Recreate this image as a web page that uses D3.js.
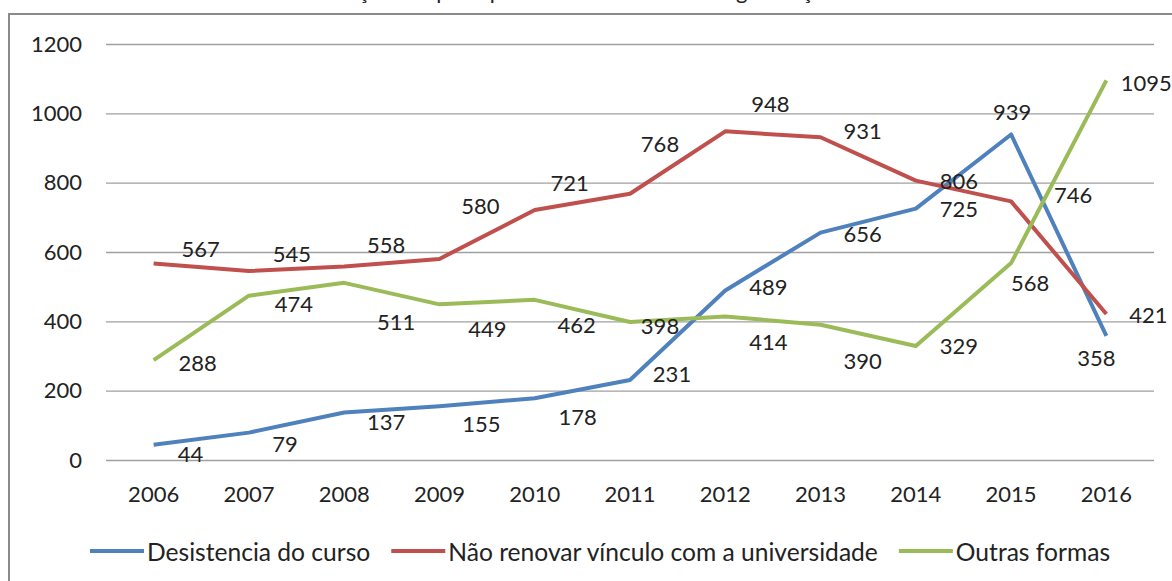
<!DOCTYPE html>
<html>
<head>
<meta charset="utf-8">
<script src="https://cdn.jsdelivr.net/npm/d3@7"></script>
<style>
  html, body { margin: 0; padding: 0; background: #fff; }
  svg { display: block; }
  text { font-family: Lato, "Open Sans", sans-serif; fill: #222; }
</style>
</head>
<body>
<div id="chart"></div>
<script>
(function() {
  const width = 1172
  const height = 581
  const fontSize = 22
  const legendFontSize = 24.6

  const years = ['2006', '2007', '2008', '2009', '2010', '2011', '2012', '2013', '2014', '2015', '2016']
  const yTicks = [0, 200, 400, 600, 800, 1000, 1200]
  const seriesNames = ['Desistencia do curso', 'Não renovar vínculo com a universidade', 'Outras formas']
  const desistencia = [44, 79, 137, 155, 178, 231, 489, 656, 725, 939, 358]
  const naoRenovar = [567, 545, 558, 580, 721, 768, 948, 931, 806, 746, 421]
  const outras = [288, 474, 511, 449, 462, 398, 414, 390, 329, 568, 1095]
  const colors = ['#4f81bd', '#c0504d', '#9bbb59']

  // nudges for the data labels (excel had them dragged around by hand)
  const labelNudge = [
    [[37, 9], [36, 11], [42, 9], [42, 17], [43, 18], [42, -6], [43, -4], [42, 1], [43, 0], [1, -23], [-10, 22]],
    [[47, -15], [43, -18], [42, -22], [41, -53], [35, -28], [30, -50], [45, -28], [42, -7], [43, 0], [62, -7], [42, 0]],
    [[44, 2], [45, 8], [52, 39], [48, 24], [42, 25], [30, 3], [43, 25], [42, 36], [43, 0], [19, 19], [40, 2]]
  ]

  const series = [desistencia, naoRenovar, outras].map((values, i) => ({
    name: seriesNames[i],
    color: colors[i],
    values: values.map((v, j) => ({ year: years[j], value: v, nudge: labelNudge[i][j] }))
  }))

  const plot = { left: 106, right: 1154, top: 44, bottom: 460 }

  const x = d3.scaleBand().domain(years).range([plot.left, plot.right])
  const cx = d => x(d) + x.bandwidth() / 2
  const y = d3.scaleLinear().domain([0, 1200]).range([plot.bottom, plot.top])

  const svg = d3.select('#chart').append('svg')
      .attr('width', width)
      .attr('height', height)
      .attr('font-size', fontSize)

  // chart frame, runs off the right and bottom edges
  svg.append('rect')
      .attr('x', 9).attr('y', 14)
      .attr('width', 1200).attr('height', 620)
      .attr('fill', 'none')
      .attr('stroke', '#8a8a8a')
      .attr('stroke-width', 2)

  // title, cut off at the top like in the original
  svg.append('text')
      .attr('x', 305).attr('y', -1)
      .attr('font-size', 22)
      .text('Evolução das principais formas de evasão na graduação')

  const yAxis = svg.append('g')
      .attr('transform', `translate(${plot.left},0)`)
      .call(d3.axisLeft(y).tickValues(yTicks).tickFormat(d3.format('d'))
        .tickSize(-(plot.right - plot.left)).tickPadding(24))
  yAxis.select('.domain').remove()
  yAxis.selectAll('.tick line').attr('stroke', '#a0a0a0').attr('stroke-width', 1.3)
  yAxis.selectAll('.tick text').attr('font-size', fontSize).attr('font-family', null).attr('fill', '#222')

  const xAxis = svg.append('g')
      .attr('transform', `translate(0,${plot.bottom})`)
      .call(d3.axisBottom(x).tickSize(0).tickPadding(26))
  xAxis.select('.domain').remove()
  xAxis.selectAll('.tick text').attr('font-size', fontSize).attr('font-family', null).attr('fill', '#222')

  const line = d3.line()
      .x(d => cx(d.year))
      .y(d => y(d.value))

  svg.append('g')
      .attr('fill', 'none')
      .attr('stroke-width', 4)
      .attr('stroke-linejoin', 'round')
    .selectAll('path')
    .data(series)
    .join('path')
      .attr('stroke', d => d.color)
      .attr('d', d => line(d.values))

  const labels = svg.append('g')
  series.forEach(s => {
    labels.append('g')
      .selectAll('text')
      .data(s.values)
      .join('text')
        .attr('text-anchor', 'middle')
        .attr('dominant-baseline', 'central')
        .attr('x', d => cx(d.year) + d.nudge[0])
        .attr('y', d => y(d.value) + d.nudge[1])
        .text(d => d.value)
  })

  // legend
  const legend = svg.append('g')
      .attr('transform', 'translate(0,551)')
      .attr('font-size', legendFontSize)
  const items = legend.selectAll('g')
    .data(series)
    .join('g')
  items.append('line')
      .attr('x1', 0).attr('x2', 54)
      .attr('stroke', d => d.color)
      .attr('stroke-width', 4)
  items.append('text')
      .attr('x', 57)
      .attr('dominant-baseline', 'central')
      .text(d => d.name)

  let pos = 0
  const offsets = []
  items.each(function() {
    const w = d3.select(this).select('text').node().getComputedTextLength()
    offsets.push(pos)
    pos += 57 + w + 21
  })
  const start = 600 - (pos - 21) / 2
  items.attr('transform', (d, i) => `translate(${start + offsets[i]},0)`)
})()
</script>
</body>
</html>
